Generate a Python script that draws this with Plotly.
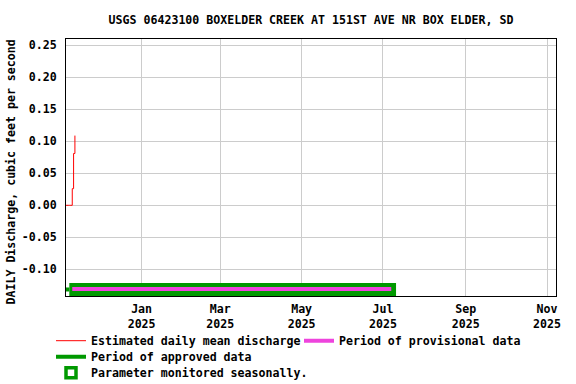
import plotly.graph_objects as go

# ---- data ----
title_text = "USGS 06423100 BOXELDER CREEK AT 151ST AVE NR BOX ELDER, SD"
y_title = "DAILY Discharge, cubic feet per second"

flow_dates = ["2024-11-05", "2024-11-06", "2024-11-07", "2024-11-08",
              "2024-11-09", "2024-11-10", "2024-11-11", "2024-11-12"]
flow_values = [0.0, 0.0, 0.0, 0.0, 0.0, 0.026, 0.081, 0.109]

approved_dates = ["2024-11-03", "2024-11-07 19:00"]
approved_level = [-0.1316, -0.1316]

seasonal_dates = ["2024-11-07 19:00", "2025-07-10 19:00", "2025-07-10 19:00", "2024-11-07 19:00", "2024-11-07 19:00"]
seasonal_levels = [-0.1213, -0.1213, -0.1425, -0.1425, -0.1213]

provisional_dates = ["2024-11-10", "2025-07-07 05:00"]
provisional_level = [-0.1308, -0.1308]

x_tick_dates = ["2025-01-01", "2025-03-01", "2025-05-01", "2025-07-01", "2025-09-01", "2025-11-01"]
x_tick_text = ["Jan<br>2025", "Mar<br>2025", "May<br>2025", "Jul<br>2025", "Sep<br>2025", "Nov<br>2025"]
y_tick_vals = [-0.10, -0.05, 0.0, 0.05, 0.10, 0.15, 0.20, 0.25]
y_tick_text = ["-0.10", "-0.05", "0.00", "0.05", "0.10", "0.15", "0.20", "0.25"]

x_range = ["2024-11-05 07:26", "2025-11-07 17:45"]
y_range = [-0.1418, 0.2600]

# ---- styles ----
RED = "#FF0000"
GREEN = "#009900"
PINK = "#EE44DD"
FONT = dict(family="DejaVu Sans Mono", size=11.6, color="black", weight="bold")
L, R, T, B = 66, 20, 39, 88
W, H = 576, 384

fig = go.Figure()

# seasonal band (plot)
fig.add_trace(go.Scatter(x=seasonal_dates, y=seasonal_levels, mode="lines",
                         fill="toself", fillcolor=GREEN, line=dict(color=GREEN, width=0),
                         showlegend=False, hoverinfo="skip"))
# approved stub
fig.add_trace(go.Scatter(x=approved_dates, y=approved_level, mode="lines",
                         line=dict(color=GREEN, width=4),
                         name="Period of approved data", legend="legend2"))
# provisional
fig.add_trace(go.Scatter(x=provisional_dates, y=provisional_level, mode="lines",
                         line=dict(color=PINK, width=4),
                         name="Period of provisional data", legend="legend4"))
# discharge
fig.add_trace(go.Scatter(x=flow_dates, y=flow_values, mode="lines",
                         line=dict(color=RED, width=1, shape="hv"),
                         name="Estimated daily mean discharge", legend="legend"))
# seasonal legend entry
fig.add_trace(go.Scatter(x=[None], y=[None], mode="markers",
                         marker=dict(symbol="square", size=10, color="white",
                                     line=dict(color=GREEN, width=3.5)),
                         name="Parameter monitored seasonally.", legend="legend3"))

def leg(xpx, ypx):
    return dict(x=xpx / W, y=1 - ypx / H, xref="container", yref="container",
                xanchor="left", yanchor="middle", orientation="v",
                bgcolor="rgba(0,0,0,0)", borderwidth=0, font=FONT,
                itemclick=False, itemdoubleclick=False)

plot_w = W - L - R
plot_h = H - T - B

fig.update_layout(
    width=W, height=H,
    margin=dict(l=L, r=R, t=T, b=B, autoexpand=False),
    paper_bgcolor="white", plot_bgcolor="white",
    font=FONT,
    title=dict(text=title_text, x=0.5, xref="paper", xanchor="center",
               y=1 - 20 / H, yref="container", yanchor="middle", font=FONT),
    showlegend=True,
    legend=leg(51, 340.7),
    legend2=leg(51, 356.7),
    legend3=leg(51, 372.7),
    legend4=leg(299, 340.7),
    xaxis=dict(type="date", range=x_range, tickvals=x_tick_dates, ticktext=x_tick_text,
               showgrid=True, gridcolor="#CCCCCC", gridwidth=1, automargin=False,
               showline=True, linecolor="black", linewidth=1, mirror=True,
               ticks="", zeroline=False, tickfont=FONT, ticklabelstandoff=2),
    yaxis=dict(range=y_range, tickvals=y_tick_vals, ticktext=y_tick_text,
               showgrid=True, gridcolor="#CCCCCC", gridwidth=1, automargin=False,
               showline=True, linecolor="black", linewidth=1, mirror=True,
               ticks="", zeroline=False, tickfont=FONT, ticklabelstandoff=6),
    annotations=[dict(text=y_title, textangle=-90, showarrow=False, font=FONT,
                      xref="paper", yref="paper",
                      x=(11 - L) / plot_w, y=(H - B - 172.5) / plot_h,
                      xanchor="center", yanchor="middle")],
)

fig.write_html("out.html", config={"displayModeBar": False},
               post_script="document.body.style.margin='0px';")
